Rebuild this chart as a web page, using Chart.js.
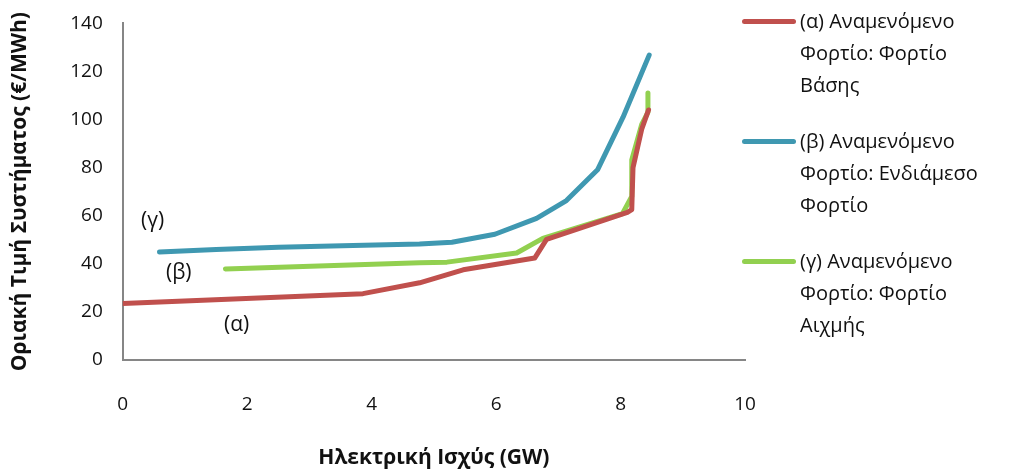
<!DOCTYPE html>
<html>
<head>
<meta charset="utf-8">
<script src="https://cdn.jsdelivr.net/npm/chart.js@4"></script>
<style>
  body { margin: 0; background: #fff; }
  #wrap { position: relative; width: 1010px; height: 471px; }
  #legend { position: absolute; left: 742px; top: 5px; font-family: "Open Sans", sans-serif; font-size: 20px; color: #111; }
  .item { position: relative; padding-left: 58px; line-height: 32px; margin-bottom: 24px; }
  .item span.sw { position: absolute; left: 0; top: 14px; width: 54px; height: 5px; border-radius: 3px; }
</style>
</head>
<body>
<div id="wrap">
  <canvas id="chart" width="1010" height="471"></canvas>
  <div id="legend"></div>
</div>
<script>
// series (x in GW, y in €/MWh)
const alphaX = [0, 3.86, 4.77, 5.47, 6.62, 6.81, 8.11, 8.18, 8.2, 8.34, 8.45];
const alphaY = [23.5, 27.6, 32.1, 37.5, 42.4, 50.2, 61.4, 62.5, 80, 96, 104];
const betaX = [0.59, 1.5, 2.5, 3.7, 4.77, 5.29, 5.98, 6.65, 7.13, 7.63, 8.04, 8.46];
const betaY = [44.9, 46, 46.9, 47.6, 48.2, 49, 52.3, 58.9, 66.3, 79.1, 101, 126.8];
const gammaX = [1.65, 4.77, 5.21, 6.33, 6.75, 8.03, 8.18, 8.18, 8.34, 8.44, 8.44];
const gammaY = [37.9, 40.4, 40.7, 44.5, 50.6, 60.9, 68, 83.2, 98, 103, 111];

const seriesNames = [
  ["(α) Αναμενόμενο", "Φορτίο: Φορτίο", "Βάσης"],
  ["(β) Αναμενόμενο", "Φορτίο: Ενδιάμεσο", "Φορτίο"],
  ["(γ) Αναμενόμενο", "Φορτίο: Φορτίο", "Αιχμής"]
];
const colors = ["#C0504D", "#3F98B1", "#92D050"];

// in-plot tags
const tagText = ["(γ)", "(β)", "(α)"];
const tagX = [0.48, 0.9, 1.83];
const tagY = [57.6, 36.2, 14.4];

const pts = (xs, ys) => xs.map((x, i) => ({ x: x, y: ys[i] }));

const tags = {
  id: "tags",
  afterDatasetsDraw(chart) {
    const ctx = chart.ctx;
    ctx.save();
    ctx.font = '21px "Open Sans", sans-serif';
    ctx.fillStyle = "#111";
    ctx.textAlign = "center";
    ctx.textBaseline = "middle";
    tagText.forEach((t, i) => {
      ctx.fillText(t, chart.scales.x.getPixelForValue(tagX[i]), chart.scales.y.getPixelForValue(tagY[i]));
    });
    ctx.restore();
  }
};

new Chart(document.getElementById("chart"), {
  type: "scatter",
  data: {
    datasets: [
      { label: seriesNames[0].join(" "), data: pts(alphaX, alphaY), borderColor: colors[0] },
      { label: seriesNames[1].join(" "), data: pts(betaX, betaY), borderColor: colors[1] },
      { label: seriesNames[2].join(" "), data: pts(gammaX, gammaY), borderColor: colors[2] }
    ]
  },
  options: {
    responsive: false,
    animation: false,
    showLine: true,
    elements: {
      line: { borderWidth: 5, tension: 0, borderCapStyle: "round", borderJoinStyle: "round" },
      point: { radius: 0 }
    },
    layout: { padding: { top: 6, right: 265, left: 3, bottom: 0 } },
    plugins: { legend: { display: false }, tooltip: { enabled: false } },
    scales: {
      x: {
        type: "linear", min: 0, max: 10,
        grid: { display: false },
        border: { color: "#868686", width: 2 },
        ticks: { stepSize: 2, padding: 25, color: "#111", font: { family: "Open Sans", size: 19 } },
        title: { display: true, text: "Ηλεκτρική Ισχύς (GW)", color: "#111", padding: { top: 5, bottom: 0 },
          font: { family: "Open Sans", size: 21, weight: "bold" } }
      },
      y: {
        min: 0, max: 140,
        grid: { display: false },
        border: { color: "#868686", width: 2 },
        ticks: { stepSize: 20, padding: 12, color: "#111", font: { family: "Open Sans", size: 19 } },
        title: { display: true, text: "Οριακή Τιμή Συστήματος (€/MWh)", color: "#111", padding: { bottom: 26 },
          font: { family: "Open Sans", size: 21, weight: "bold" } }
      }
    }
  },
  plugins: [tags]
});

// legend with wrapped labels
const legend = document.getElementById("legend");
seriesNames.forEach((lines, i) => {
  const d = document.createElement("div");
  d.className = "item";
  d.innerHTML = '<span class="sw" style="background:' + colors[i] + '"></span>' + lines.join("<br>");
  legend.appendChild(d);
});
</script>
</body>
</html>
